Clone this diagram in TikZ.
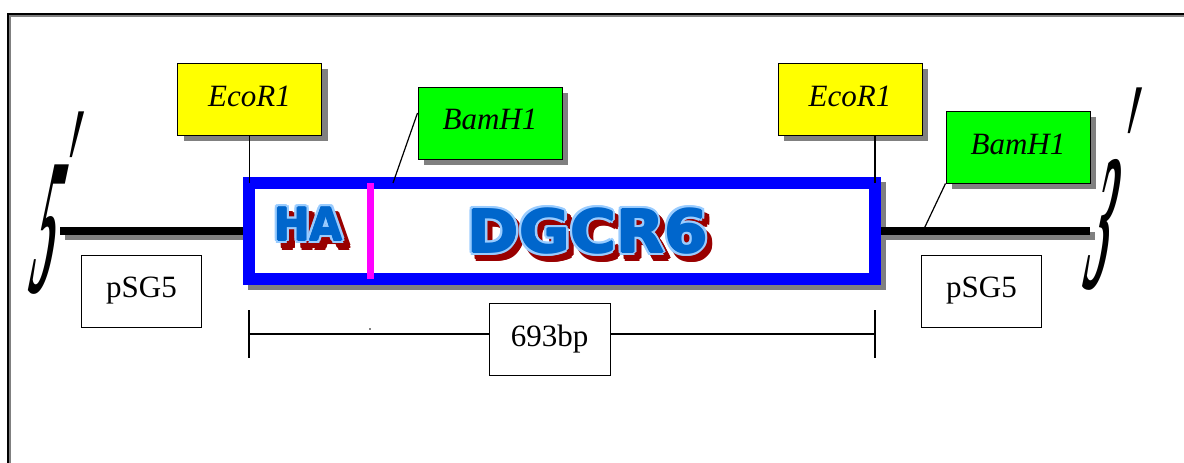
\documentclass[tikz,border=0pt]{standalone}
\usepackage{fontspec}
\setmainfont{Liberation Serif}
\newfontfamily\heavyfont{DejaVu Sans}
\usetikzlibrary{shadows,calc,backgrounds}
\definecolor{shgray}{RGB}{128,128,128}
\definecolor{ecoyellow}{RGB}{255,255,0}
\definecolor{bamgreen}{RGB}{0,255,0}
\definecolor{insblue}{RGB}{0,0,255}
\definecolor{hamag}{RGB}{255,0,255}
\definecolor{txtblue}{RGB}{0,102,204}
\definecolor{txtlight}{RGB}{153,204,255}
\definecolor{txtred}{RGB}{153,0,0}
\begin{document}
\begin{tikzpicture}[x=1pt,y=-1pt,
  enzbox/.style={draw, line width=1pt, minimum width=144pt, minimum height=72pt, inner sep=0pt,
    font=\fontsize{31}{36}\selectfont\itshape,
    drop shadow={shadow xshift=6pt, shadow yshift=-6pt, fill=shgray, opacity=1}},
  plainbox/.style={draw, line width=1pt, minimum width=120pt, minimum height=72pt, inner sep=0pt,
    fill=white, font=\fontsize{31}{36}\selectfont},
  insertbox/.style={draw=insblue, line width=12pt, fill=white, minimum width=626pt,
    minimum height=96pt, inner sep=0pt, outer sep=0pt},
  dna/.style={line width=8pt},
  dnashadow/.style={line width=8pt, shgray},
  conn/.style={line width=1.2pt},
  bigtxt/.style={font=\heavyfont\bfseries\fontsize{59}{60}\selectfont, inner sep=0pt},
  hatxt/.style={font=\heavyfont\bfseries\fontsize{45}{46}\selectfont, inner sep=0pt},
  endtxt/.style={font=\fontsize{50}{50}\selectfont\bfseries\itshape, inner sep=0pt,
    transform shape, xslant=0.17},
]
\useasboundingbox (0,0) rectangle (1184,463);
% frame
\draw[shgray, line width=1.5pt] (9.8,480) -- (9.8,15.8) -- (1200,15.8);
\draw[line width=2pt] (8,480) -- (8,14) -- (1200,14);

% insert box
\node[insertbox] (insert) at (562,231) {};
\coordinate (lend) at (60,231);
\coordinate (rend) at (1090,231);
\coordinate (rb) at (923,231);
\begin{pgfonlayer}{background}
  \fill[shgray] ([shift={(-1,-1)}]insert.north west) rectangle ([shift={(11,11)}]insert.south east);
  \draw[dnashadow] ([shift={(5,5)}]lend) -- ([shift={(0,5)}]insert.west);
  \draw[dnashadow] ([shift={(5,5)}]insert.east) -- ([shift={(5,5)}]rend);
  \draw[dna] (lend) -- ([xshift=-6pt]insert.west);
  \draw[dna] ([xshift=6pt]insert.east) -- (rend);
\end{pgfonlayer}

% magenta junction
\draw[hamag, line width=7pt] ($(insert.north west)+(121,0)$) -- ($(insert.south west)+(121,0)$);

% HA text
\foreach \a in {0,30,...,330}
  \node[hatxt, text=txtred] (has\a) at ($(308.5,224)+(6,7)+(\a:3)$) {\scalebox{0.94}[1]{HA}};
\foreach \a in {0,30,...,330}
  \node[hatxt, text=txtlight] (hal\a) at ($(308.5,224)+(\a:3)$) {\scalebox{0.94}[1]{HA}};
\foreach \a in {0,90,180,270}
  \node[hatxt, text=txtblue] (hab\a) at ($(308.5,224)+(\a:0.8)$) {\scalebox{0.94}[1]{HA}};
\node[hatxt, text=txtblue] (ha) at (308.5,224) {\scalebox{0.94}[1]{HA}};

% DGCR6 text
\foreach \a in {0,30,...,330}
  \node[bigtxt, text=txtred] (dgs\a) at ($(587.5,231)+(5,6)+(\a:3)$) {\scalebox{1.06}[1]{DGCR6}};
\foreach \a in {0,30,...,330}
  \node[bigtxt, text=txtlight] (dgl\a) at ($(587.5,231)+(\a:3)$) {\scalebox{1.06}[1]{DGCR6}};
\foreach \a in {0,90,180,270}
  \node[bigtxt, text=txtblue] (dgb\a) at ($(587.5,231)+(\a:0.9)$) {\scalebox{1.06}[1]{DGCR6}};
\node[bigtxt, text=txtblue] (dg) at (587.5,231) {\scalebox{1.06}[1]{DGCR6}};

% enzyme boxes
\node[enzbox, fill=ecoyellow] (eco1) at (249.5,99) {\raisebox{5pt}{EcoR1}\hspace{24pt}};
\node[enzbox, fill=bamgreen] (bam1) at (490,123) {\raisebox{8pt}{BamH1}\hspace{10pt}};
\node[enzbox, fill=ecoyellow] (eco2) at (850,99) {\raisebox{5pt}{EcoR1}\hspace{24pt}};
\node[enzbox, fill=bamgreen] (bam2) at (1018,147) {\raisebox{6pt}{BamH1}\hspace{10pt}};

% connectors
\draw[conn] (eco1.south) -- (eco1.south |- insert.north);
\draw[conn] (eco2.south -| insert.north east) -- (insert.north east);
\draw[conn] ([shift={(0,-10)}]bam1.west) -- ($(insert.north west)+(144,0)$);
\draw[conn] (bam2.south west) -- (rb);

% pSG5 boxes
\node[plainbox] (ps1) at (141.5,291) {\raisebox{4pt}{pSG5}\hspace{8pt}};
\node[plainbox] (ps2) at (981.5,291) {\raisebox{4pt}{pSG5}\hspace{8pt}};

% dimension
\coordinate (dl) at (249,334);
\coordinate (dr) at (875,334);
\node[plainbox, minimum width=121pt] (len) at (549.5,339) {693bp};
\draw[conn] (dl) -- (dl -| len.west);
\draw[conn] (dr -| len.east) -- (dr);
\draw[conn] ([shift={(0,-24)}]dl) -- ([shift={(0,24)}]dl);
\draw[conn] ([shift={(0,-24)}]dr) -- ([shift={(0,24)}]dr);
\fill (370,329) circle (0.9);

% 5' and 3' ends
\node[endtxt] (five) at (49,230) {\scalebox{0.85}[3.9]{5}};
\node[endtxt] (fivep) at (70,176) {\scalebox{0.9}[3.9]{′}};
\node[endtxt] (three) at (1104,225) {\scalebox{0.85}[3.9]{3}};
\node[endtxt] (threep) at (1128,152) {\scalebox{0.9}[3.9]{′}};
\end{tikzpicture}
\end{document}
